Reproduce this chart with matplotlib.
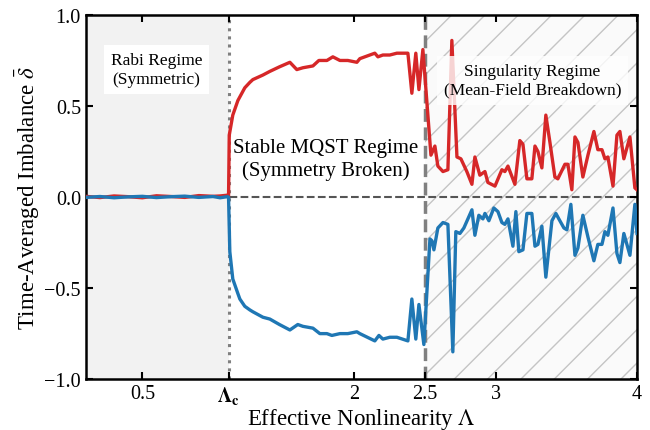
import matplotlib
matplotlib.use("Agg")
import matplotlib.pyplot as plt

plt.rcParams['font.family'] = ['Liberation Serif', 'DejaVu Serif']
plt.rcParams['mathtext.fontset'] = 'stix'
plt.rcParams['hatch.linewidth'] = 1.0

# data
lambda_c = 1.11
x_min, x_max = 0.1, 4.0
x_sing = 2.5

red_x = [0.10, 0.20, 0.30, 0.40, 0.50, 0.60, 0.70, 0.80, 0.90, 1.00, 1.05, 1.10, 1.11,
         1.115, 1.140, 1.176, 1.190, 1.225, 1.261, 1.282, 1.353, 1.402, 1.470, 1.544,
         1.593, 1.636, 1.707, 1.749, 1.806, 1.848, 1.898, 1.954, 2.018, 2.039, 2.145,
         2.167, 2.202, 2.251, 2.301, 2.379, 2.407, 2.435, 2.457, 2.485,
         2.542, 2.570, 2.591, 2.627, 2.662, 2.690, 2.726, 2.754, 2.796, 2.832, 2.853,
         2.888, 2.924, 2.945, 2.995, 3.044, 3.065, 3.087, 3.136, 3.171, 3.193, 3.221,
         3.256, 3.278, 3.299, 3.327, 3.355, 3.384, 3.419, 3.440, 3.490, 3.511, 3.539,
         3.561, 3.582, 3.617, 3.653, 3.695, 3.723, 3.752, 3.773, 3.794, 3.830, 3.858,
         3.879, 3.907, 3.950, 3.985, 4.000]
red_y = [0.004, -0.003, 0.006, 0.002, -0.004, 0.007, 0.003, -0.002, 0.008, 0.004, 0.006, 0.010, 0.0,
         0.34, 0.45, 0.53, 0.55, 0.60, 0.63, 0.645, 0.67, 0.69, 0.715, 0.74,
         0.70, 0.71, 0.72, 0.75, 0.75, 0.77, 0.75, 0.75, 0.74, 0.76, 0.79,
         0.77, 0.78, 0.78, 0.79, 0.79, 0.57, 0.79, 0.59, 0.81,
         0.23, 0.28, 0.17, 0.14, 0.15, 0.86, 0.22, 0.21, 0.14, 0.07, 0.22,
         0.12, 0.14, 0.08, 0.06, 0.15, 0.14, 0.17, 0.07, 0.31, 0.29, 0.10,
         0.10, 0.28, 0.25, 0.16, 0.45, 0.30, 0.11, 0.10, 0.18, 0.18, 0.04,
         0.33, 0.30, 0.11, 0.23, 0.36, 0.26, 0.26, 0.21, 0.22, 0.06, 0.34,
         0.36, 0.21, 0.33, 0.05, 0.04]

blue_x = [0.10, 0.20, 0.30, 0.40, 0.50, 0.60, 0.70, 0.80, 0.90, 1.00, 1.05, 1.10, 1.11,
          1.119, 1.140, 1.176, 1.190, 1.225, 1.261, 1.282, 1.353, 1.402, 1.470, 1.544,
          1.600, 1.636, 1.707, 1.756, 1.806, 1.841, 1.898, 1.954, 2.018, 2.039, 2.145,
          2.174, 2.202, 2.251, 2.301, 2.379, 2.407, 2.435, 2.457, 2.492,
          2.535, 2.549, 2.563, 2.591, 2.627, 2.662, 2.697, 2.718, 2.747, 2.775, 2.832,
          2.853, 2.881, 2.910, 2.924, 2.952, 2.987, 3.016, 3.044, 3.065, 3.087, 3.122,
          3.143, 3.164, 3.193, 3.221, 3.256, 3.278, 3.299, 3.327, 3.355, 3.398, 3.426,
          3.447, 3.483, 3.504, 3.532, 3.561, 3.582, 3.617, 3.653, 3.695, 3.723, 3.752,
          3.773, 3.794, 3.830, 3.858, 3.879, 3.907, 3.950, 3.985, 4.000]
blue_y = [-0.002, 0.003, -0.004, 0.001, 0.004, -0.003, 0.002, 0.005, -0.002, 0.003, -0.004, 0.002, 0.0,
          -0.30, -0.45, -0.53, -0.56, -0.60, -0.62, -0.63, -0.66, -0.67, -0.70, -0.73,
          -0.70, -0.71, -0.72, -0.75, -0.75, -0.76, -0.75, -0.75, -0.74, -0.75, -0.79,
          -0.76, -0.78, -0.77, -0.77, -0.79, -0.56, -0.78, -0.59, -0.81,
          -0.23, -0.24, -0.29, -0.17, -0.14, -0.15, -0.85, -0.19, -0.20, -0.17, -0.07,
          -0.21, -0.10, -0.12, -0.09, -0.13, -0.06, -0.08, -0.14, -0.15, -0.12, -0.27,
          -0.08, -0.30, -0.29, -0.09, -0.09, -0.27, -0.26, -0.16, -0.44, -0.13, -0.09,
          -0.12, -0.17, -0.18, -0.04, -0.32, -0.28, -0.10, -0.22, -0.35, -0.26, -0.26,
          -0.19, -0.21, -0.06, -0.31, -0.36, -0.20, -0.32, -0.04, -0.20]

xticks = [0.5, lambda_c, 2, 2.5, 3, 4]
xtick_labels = ['0.5', r'$\mathbf{\Lambda_c}$', '2', '2.5', '3', '4']
yticks = [-1.0, -0.5, 0.0, 0.5, 1.0]

fig = plt.figure(figsize=(6.5, 4.31), dpi=100)
ax = fig.add_axes([0.132, 0.118, 0.848, 0.845])

# regime shading
ax.axvspan(x_min, lambda_c, facecolor='#f2f2f2', edgecolor='none', zorder=0)
ax.axvspan(x_sing, x_max, facecolor='#fafafa', edgecolor='#c4c4c4', hatch='/',
           linewidth=0, zorder=0)

ax.axhline(0, color='#555555', ls='--', lw=1.5, zorder=1)
ax.axvline(lambda_c, color='#808080', ls=':', lw=2.2, zorder=1)
ax.axvline(x_sing, color='#808080', ls='--', lw=2.5, zorder=1)

ax.plot(red_x, red_y, color='#d62728', lw=2.4, zorder=3)
ax.plot(blue_x, blue_y, color='#1f77b4', lw=2.4, zorder=3)

ax.text(0.6, 0.70, 'Rabi Regime\n(Symmetric)', ha='center', va='center', fontsize=12.5,
        bbox=dict(facecolor='white', edgecolor='none', pad=5), zorder=4)
ax.text(1.80, 0.21, 'Stable MQST Regime\n(Symmetry Broken)', ha='center', va='center',
        fontsize=15, zorder=4)
ax.text(3.26, 0.64, 'Singularity Regime\n(Mean-Field Breakdown)', ha='center', va='center',
        fontsize=12.5, bbox=dict(facecolor='white', edgecolor='none', alpha=0.8, pad=5), zorder=4)

ax.set_xlim(x_min, x_max)
ax.set_ylim(-1.0, 1.0)
ax.set_xticks(xticks)
ax.set_xticklabels(xtick_labels)
ax.set_yticks(yticks)
ax.set_xlabel(r'Effective Nonlinearity $\Lambda$', fontsize=16.5, labelpad=0)
ax.set_ylabel(r'Time-Averaged Imbalance $\bar{\delta}$', fontsize=16.5, labelpad=2)
ax.tick_params(direction='in', top=True, right=True, labelsize=14.5, width=1.5, length=5)
for s in ax.spines.values():
    s.set_linewidth(1.8)

fig.savefig('out.png', dpi=100)
